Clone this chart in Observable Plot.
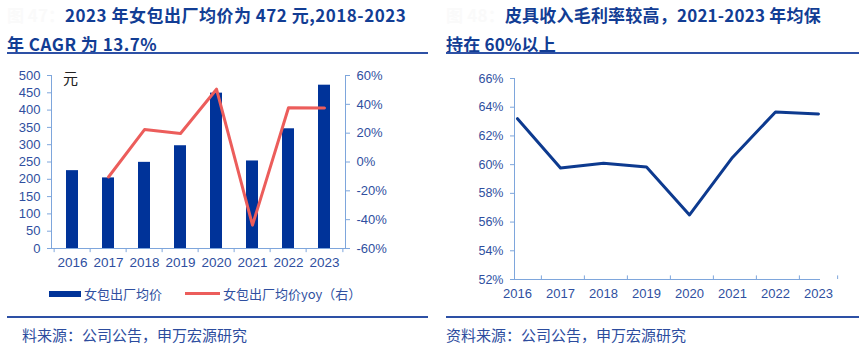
<!DOCTYPE html>
<html><head><meta charset="utf-8">
<script src="https://cdn.jsdelivr.net/npm/d3@7"></script>
<script src="https://cdn.jsdelivr.net/npm/@observablehq/plot@0.6"></script>
<style>
body{margin:0;background:#fff;width:866px;height:352px;overflow:hidden;position:relative;font-family:"Liberation Sans","Noto Sans CJK SC",sans-serif;}
.abs{position:absolute;white-space:nowrap;}
.title{font-family:"Noto Sans CJK SC",sans-serif;font-weight:bold;font-size:17px;color:#123d94;line-height:29px;}
.faint{color:#fafafa;}
.rule{position:absolute;height:2px;background:#2d50a5;}
.foot{font-family:"Noto Sans CJK SC",sans-serif;font-size:15px;color:#2c4c9e;}
.leg{font-family:"Noto Sans CJK SC",sans-serif;font-size:13px;color:#2f4fa0;}
</style></head><body>
<div id="t1" class="abs title" style="left:7px;top:0px;letter-spacing:0.5px;"><span class="faint" style="letter-spacing:0">图 47：</span>2023 年女包出厂均价为 472 元,2018-2023<br>年 CAGR 为 13.7%</div>
<div class="rule" style="left:7px;top:52px;width:421px;"></div>
<div id="t2" class="abs title" style="left:446px;top:0px;letter-spacing:0.2px;"><span class="faint">图 48：</span>皮具收入毛利率较高，2021-2023 年均保<br>持在 60%以上</div>
<div class="rule" style="left:446px;top:52px;width:413px;"></div>
<div id="c1" class="abs" style="left:0;top:60px;"></div>
<div id="c2" class="abs" style="left:433px;top:60px;"></div>
<div class="abs" style="left:63px;top:67px;font-family:'Noto Sans CJK SC';font-size:15px;color:#222;">元</div>
<div class="abs" style="left:49px;top:291px;width:32px;height:6px;background:#003399;"></div>
<div class="abs leg" style="left:84px;top:284px;">女包出厂均价</div>
<div class="abs" style="left:185px;top:292px;width:35px;height:3px;background:#ec5d5b;"></div>
<div class="abs leg" style="left:223px;top:284px;">女包出厂均价yoy（右）</div>
<div class="rule" style="left:7px;top:316px;width:421px;"></div>
<div class="rule" style="left:446px;top:316px;width:413px;"></div>
<div class="abs foot" style="left:22px;top:324px;">料来源：公司公告，申万宏源研究</div>
<div class="abs foot" style="left:446px;top:324px;">资料来源：公司公告，申万宏源研究</div>
<script>
const years = ["2016","2017","2018","2019","2020","2021","2022","2023"];
const price = [225, 204, 249, 297, 449, 253, 346, 472];
const yoy = [null, -10.4, 22.5, 19.8, 50.5, -43.8, 37.6, 37.4];
const margin = [63.2, 59.76, 60.1, 59.83, 56.5, 60.5, 63.67, 63.53];
const leftTicks = [0,50,100,150,200,250,300,350,400,450,500];
const rightTicks = [-60,-40,-20,0,20,40,60];
const marginTicks = [52,54,56,58,60,62,64,66];

const axisColor = "#7ea6dc", labelColor = "#2f4fa0";
const toLeft = v => (v + 60) / 120 * 500;
const data1 = years.map((y, i) => ({year: y, price: price[i], yoy: yoy[i]}));
const data2 = years.map((y, i) => ({year: y, m: margin[i]}));

const step1 = (433 - 51 - 88) / years.length;
const chart1 = Plot.plot({
  width: 433, height: 215, marginLeft: 51, marginRight: 88, marginTop: 15, marginBottom: 27,
  style: {fontFamily: "Liberation Sans, Arial, sans-serif", fontSize: "13px", color: labelColor, background: "transparent", overflow: "visible"},
  x: {domain: years, paddingInner: 0.68, paddingOuter: 0.34, axis: null},
  y: {domain: [0, 500], axis: null},
  marks: [
    Plot.barY(data1, {x: "year", y: "price", fill: "#003399"}),
    Plot.axisY({ticks: leftTicks, tickSize: 4, tickPadding: 7, stroke: axisColor, fill: labelColor, fontSize: 13, label: null}),
    Plot.axisY({anchor: "right", ticks: rightTicks.map(toLeft), tickFormat: v => Math.round(v / 500 * 120 - 60) + "%", tickSize: 4, tickPadding: 7, stroke: axisColor, fill: labelColor, fontSize: 13, label: null}),
    Plot.frame({anchor: "left", stroke: axisColor}),
    Plot.frame({anchor: "right", stroke: axisColor}),
    Plot.ruleY([0], {stroke: axisColor}),
    Plot.ruleX(years, {x: d => d, y1: 0, y2: -12, dx: -step1 / 2, stroke: axisColor}),
    Plot.ruleX(years.slice(-1), {x: d => d, y1: 0, y2: -12, dx: step1 / 2, stroke: axisColor}),
    Plot.axisX({tickSize: 0, tickPadding: 9, fill: labelColor, fontSize: 13.5, label: null}),
    Plot.line(data1.filter(d => d.yoy != null), {x: "year", y: d => toLeft(d.yoy), stroke: "#ec5d5b", strokeWidth: 3})
  ]
});
document.getElementById("c1").appendChild(chart1);

const step2 = (433 - 81 - 46) / years.length;
const chart2 = Plot.plot({
  width: 433, height: 250, marginLeft: 81, marginRight: 46, marginTop: 18, marginBottom: 31,
  style: {fontFamily: "Liberation Sans, Arial, sans-serif", fontSize: "12.5px", color: labelColor, background: "transparent", overflow: "visible"},
  x: {domain: years, padding: 0, axis: null},
  y: {domain: [52, 66], axis: null},
  marks: [
    Plot.axisY({ticks: marginTicks, tickFormat: d => d + "%", tickSize: 4, tickPadding: 7, stroke: axisColor, fill: labelColor, fontSize: 12.5, label: null}),
    Plot.frame({anchor: "left", stroke: axisColor}),
    Plot.ruleY([52], {stroke: axisColor}),
    Plot.ruleX(years, {x: d => d, y1: 52, y2: 52.25, dx: -step2 / 2, stroke: axisColor}),
    Plot.ruleX(years.slice(-1), {x: d => d, y1: 52, y2: 52.25, dx: step2 / 2, stroke: axisColor}),
    Plot.axisX({tickSize: 0, tickPadding: 9, fill: labelColor, fontSize: 13, label: null}),
    Plot.line(data2, {x: "year", y: "m", stroke: "#0d3a8f", strokeWidth: 3})
  ]
});
document.getElementById("c2").appendChild(chart2);
</script>
</body></html>
